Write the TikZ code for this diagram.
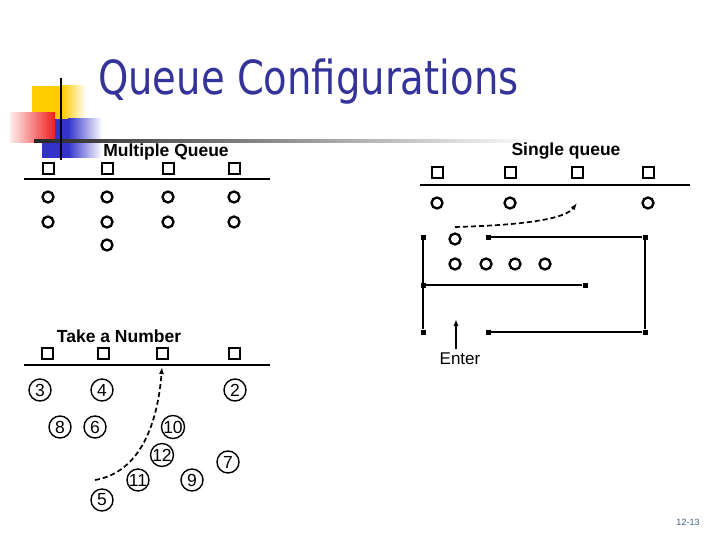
\documentclass[tikz,border=0pt]{standalone}
\usepackage{fontspec}
\setmainfont{Liberation Sans}
\newfontfamily\titlefont[FakeStretch=0.82]{DejaVu Sans}
\usetikzlibrary{arrows.meta}
\definecolor{titleblue}{RGB}{51,51,153}
\definecolor{decoyel}{RGB}{255,204,0}
\definecolor{decoblue}{RGB}{51,51,204}
\definecolor{decored}{RGB}{240,30,30}
\definecolor{pagegray}{RGB}{60,95,125}

\begin{document}
\begin{tikzpicture}[x=1pt,y=-1pt,
 srv/.style={draw,line width=2pt,minimum size=11pt,inner sep=0pt},
 cust/.style={draw,circle,line width=2.3pt,minimum size=11pt,inner sep=0pt},
 num/.style={draw,circle,line width=1.4pt,minimum size=22pt,inner sep=0pt,font=\fontsize{17.5}{17.5}\selectfont},
 dot/.style={fill,minimum size=5pt,inner sep=0pt},
 lab/.style={font=\bfseries\fontsize{17.5}{17.5}\selectfont,anchor=base,inner sep=0pt},
 ln/.style={line width=2pt},
 ar/.style={-{Latex[length=7pt,width=5pt]},dash pattern=on 5pt off 3pt,line width=1.7pt}]
\useasboundingbox (0,0) rectangle (720,540);
% slide decoration
\fill[decoyel] (32,86) rectangle (62,119);
\shade[left color=decoyel,right color=white] (62,86) rectangle (86,119);
\fill[decoblue] (42,119) rectangle (68,158);
\shade[left color=decoblue,right color=white] (68,119) rectangle (102,158);
\shade[left color=decored!8,right color=decored] (10,113) rectangle (55,143);
\shade[left color=black!85,right color=white] (34,139.8) rectangle (540,142.2);
\draw[line width=2.4pt] (61,78) -- (61,160);
\node[anchor=base west,inner sep=0pt,text=titleblue,font=\titlefont\fontsize{47}{47}\selectfont] (title) at (98,95) {Queue Configurations};

% multiple queue
\node[lab] (mqlab) at (166,157) {Multiple Queue};
\node[srv] (mq1) at (48,169) {}; \node[srv] (mq2) at (107,169) {};
\node[srv] (mq3) at (168,169) {}; \node[srv] (mq4) at (234,169) {};
\draw[ln] (24,179) -- (270,179);
\node[cust] (mqa1) at (48,197) {}; \node[cust] (mqa2) at (107,197) {};
\node[cust] (mqa3) at (168,197) {}; \node[cust] (mqa4) at (234,197) {};
\node[cust] (mqb1) at (48,222) {}; \node[cust] (mqb2) at (107,222) {};
\node[cust] (mqb3) at (168,222) {}; \node[cust] (mqb4) at (234,222) {};
\node[cust] (mqc2) at (107,245) {};

% single queue
\node[lab] (sqlab) at (566,156) {Single queue};
\node[srv] (sq1) at (437,173) {}; \node[srv] (sq2) at (510,173) {};
\node[srv] (sq3) at (577,173) {}; \node[srv] (sq4) at (648,173) {};
\draw[ln] (420,185) -- (690,185);
\node[cust] (sqa1) at (437,203) {}; \node[cust] (sqa2) at (510,203) {};
\node[cust] (sqa4) at (648,203) {};
\node[cust] (sqw1) at (455,239) {};
\node[cust] (sqw2) at (455,264) {}; \node[cust] (sqw3) at (486,264) {};
\node[cust] (sqw4) at (515,264) {}; \node[cust] (sqw5) at (545,264) {};
\node[dot] (ca) at (423,237) {}; \node[dot] (cb) at (488,237) {}; \node[dot] (cc) at (645,237) {};
\node[dot] (cd) at (423,285) {}; \node[dot] (ce) at (585,285) {};
\node[dot] (cf) at (423,332) {}; \node[dot] (cg) at (488,332) {}; \node[dot] (ch) at (645,332) {};
\draw[ln] (ca) -- (cf); \draw[ln] (cd) -- (ce);
\draw[ln] (cb) -- (cc) -- (ch) -- (cg);
\coordinate (sqfrom) at (455,227);
\coordinate (sqto) at (577,203);
\draw[ar] (sqfrom) .. controls (530,225) and (566,218) .. (sqto);
\node[anchor=base,inner sep=0pt,font=\fontsize{17}{17}\selectfont] (enter) at (460,364) {Enter};
\coordinate (entry) at (456,319);
\draw[line width=1.8pt,-{Latex[length=7pt,width=5pt]}] (enter.north -| entry) ++(0,-3) -- (entry);

% take a number
\node[lab] (tnlab) at (119,342) {Take a Number};
\node[srv] (tn1) at (47,353) {}; \node[srv] (tn2) at (103,353) {};
\node[srv] (tn3) at (162,353) {}; \node[srv] (tn4) at (234,353) {};
\draw[ln] (24,365) -- (270,365);
\node[num] (n3) at (40,390) {3}; \node[num] (n4) at (102,390) {4};
\node[num] (n2) at (235,390) {2};
\node[num] (n8) at (60,427) {8}; \node[num] (n6) at (95,427) {6};
\node[num] (n10) at (173,427) {10};
\node[num] (n12) at (162,455) {12}; \node[num] (n7) at (228,462) {7};
\node[num] (n11) at (138,480) {11}; \node[num] (n9) at (192,480) {9};
\node[num] (n5) at (102,500) {5};
\coordinate (tnfrom) at (95,480);
\coordinate (tnto) at (162,367);
\draw[ar] (tnfrom) .. controls (142,472) and (158,420) .. (tnto);

\node[text=pagegray,font=\fontsize{9}{9}\selectfont] (page) at (688,522) {12-13};
\end{tikzpicture}
\end{document}
